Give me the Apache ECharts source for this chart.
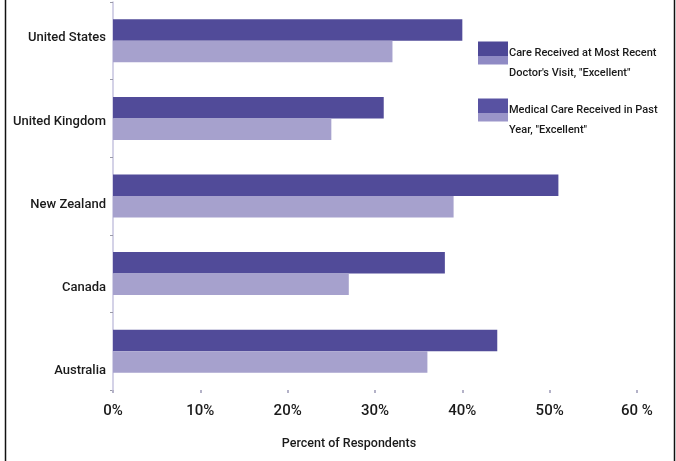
<!DOCTYPE html>
<html>
<head>
<meta charset="utf-8">
<script src="https://cdn.jsdelivr.net/npm/echarts@6/dist/echarts.min.js"></script>
<style>
html,body{margin:0;padding:0;background:#fff;}
#chart{width:676px;height:461px;}
</style>
</head>
<body>
<div id="chart"></div>
<script>
// Categories listed bottom-to-top (ECharts category y-axis order)
var categories = ['Australia', 'Canada', 'New Zealand', 'United Kingdom', 'United States'];
var seriesNames = ['Care Received at Most Recent Doctor\'s Visit, "Excellent"', 'Medical Care Received in Past Year, "Excellent"'];
var legendLabels = ['Care Received at Most Recent\nDoctor\'s Visit, "Excellent"', 'Medical Care Received in Past\nYear, "Excellent"'];
var recentVisit = [44, 38, 51, 31, 40];
var pastYear = [36, 27, 39, 25, 32];
var tickLabels = ['0%', '10%', '20%', '30%', '40%', '50%', '60 %'];

var DARK = '#514b99';
var LIGHT = '#a6a1cd';
var FONT = 'Roboto, "Liberation Sans", sans-serif';
var TXT = '#1a1a1a';

function iconGrad(top, bottom) {
  return {
    type: 'linear', x: 0, y: 0, x2: 0, y2: 1,
    colorStops: [
      {offset: 0, color: top}, {offset: 0.62, color: top},
      {offset: 0.62, color: bottom}, {offset: 1, color: bottom}
    ]
  };
}

var chart = echarts.init(document.getElementById('chart'), null, {renderer: 'canvas'});
chart.setOption({
  backgroundColor: '#ffffff',
  animation: false,
  textStyle: {fontFamily: FONT, color: TXT},
  grid: [
    {left: 113, top: 2, width: 524, height: 388},
    {left: 113, top: 38, width: 524, height: 333}
  ],
  legend: {
    orient: 'vertical',
    left: 478,
    top: 23,
    padding: 0,
    itemWidth: 30,
    itemHeight: 23,
    itemGap: -3,
    icon: 'rect',
    data: [
      {name: seriesNames[0], itemStyle: {color: iconGrad('#4d4796', '#8f8ac4')}},
      {name: seriesNames[1], itemStyle: {color: iconGrad('#5852a2', '#9a95c9')}}
    ],
    formatter: function (name) {
      // blank first line keeps the icon level with the first text line
      return ' \n' + legendLabels[seriesNames.indexOf(name)];
    },
    textStyle: {fontFamily: FONT, fontSize: 11, fontWeight: 500, lineHeight: 20, color: TXT, padding: [0, 0, 0, -4]}
  },
  xAxis: [
    {
      type: 'value', gridIndex: 0, min: 0, max: 60, interval: 10,
      axisLine: {show: false},
      axisTick: {show: true, length: 3, lineStyle: {color: '#b4b2c8', width: 2}},
      splitLine: {show: false},
      axisLabel: {
        margin: 14, fontSize: 15, fontWeight: 500, fontFamily: FONT, color: TXT,
        formatter: function (v) { return tickLabels[Math.round(v / 10)]; }
      },
      name: 'Percent of Respondents',
      nameLocation: 'middle',
      nameGap: 47,
      nameTextStyle: {fontSize: 12.5, fontWeight: 500, fontFamily: FONT, color: TXT, padding: [0, 52, 0, 0]}
    },
    {type: 'value', gridIndex: 1, min: 0, max: 60, show: false}
  ],
  yAxis: [
    {
      type: 'category', gridIndex: 0, data: categories,
      axisLine: {show: true, lineStyle: {color: '#c6c3df', width: 1.5}},
      axisTick: {show: true, length: 3, lineStyle: {color: '#9a9aa8'}},
      axisLabel: {show: false},
      splitLine: {show: false}
    },
    {
      type: 'category', gridIndex: 1, data: categories, boundaryGap: false,
      axisLine: {show: false},
      axisTick: {show: false},
      axisLabel: {margin: 7, fontSize: 13, fontWeight: 500, fontFamily: FONT, color: TXT},
      splitLine: {show: false}
    }
  ],
  series: [
    {
      name: seriesNames[0], type: 'bar', xAxisIndex: 0, yAxisIndex: 0,
      data: recentVisit, barWidth: 21.5, barGap: '0%',
      itemStyle: {color: DARK}
    },
    {
      name: seriesNames[1], type: 'bar', xAxisIndex: 0, yAxisIndex: 0,
      data: pastYear, barWidth: 21.5, barGap: '0%',
      itemStyle: {color: LIGHT}
    }
  ],
  graphic: [
    {type: 'line', shape: {x1: 5.5, y1: 0, x2: 5.5, y2: 461}, style: {stroke: '#111', lineWidth: 1.5}},
    {type: 'line', shape: {x1: 674.5, y1: 0, x2: 674.5, y2: 461}, style: {stroke: '#111', lineWidth: 1.5}}
  ]
});
</script>
</body>
</html>
